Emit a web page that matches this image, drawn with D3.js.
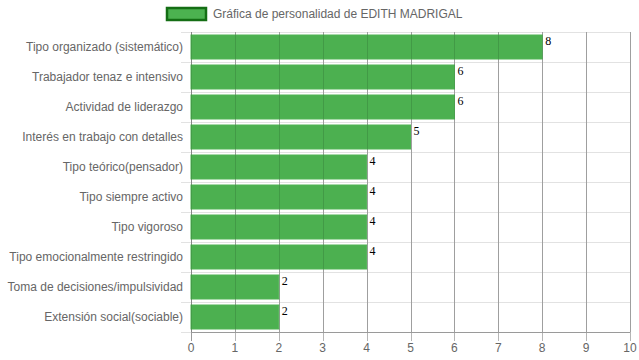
<!DOCTYPE html>
<html><head><meta charset="utf-8">
<script src="https://cdn.jsdelivr.net/npm/d3@7"></script>
<style>body{margin:0;background:#fff}svg{display:block}</style>
</head><body>
<svg id="c" width="639" height="360"></svg>
<script>
const categories = ["Tipo organizado (sistemático)","Trabajador tenaz e intensivo","Actividad de liderazgo","Interés en trabajo con detalles","Tipo teórico(pensador)","Tipo siempre activo","Tipo vigoroso","Tipo emocionalmente restringido","Toma de decisiones/impulsividad","Extensión social(sociable)"];
const values = [8,6,6,5,4,4,4,4,2,2];
const xTicks = [0,1,2,3,4,5,6,7,8,9,10];
const legendLabel = "Gráfica de personalidad de EDITH MADRIGAL";

(function(){
const svg = d3.select("#c");
const pL = 191, pR = 630, pT = 32, pB = 332;
const x = d3.scaleLinear().domain([0,10]).range([pL,pR]);
const y = d3.scaleBand().domain(categories).range([pT,pB]).paddingInner(0.2).paddingOuter(0.1);
const font = "Liberation Sans, Arial, sans-serif";

const bw = (pB-pT)/categories.length;
const hLines = d3.range(categories.length).map(i=>pT+i*bw);
svg.append("g").selectAll("line").data(hLines).join("line")
  .attr("x1",pL-10).attr("x2",pR).attr("y1",d=>Math.round(d)+0.5).attr("y2",d=>Math.round(d)+0.5)
  .attr("stroke","#e2e2e2").attr("stroke-width",1);
svg.append("line").attr("x1",pL-10).attr("x2",pL).attr("y1",pB+0.5).attr("y2",pB+0.5).attr("stroke","#e2e2e2");

svg.append("g").selectAll("line").data(xTicks).join("line")
  .attr("x1",d=>Math.round(x(d))+0.5).attr("x2",d=>Math.round(x(d))+0.5)
  .attr("y1",pT).attr("y2",pB+9)
  .attr("stroke",d=>d===0?"#9a9a9a":"#b5b5b5").attr("stroke-width",1);

svg.append("g").selectAll("rect").data(values).join("rect")
  .attr("x",x(0)).attr("y",(d,i)=>y(categories[i]))
  .attr("width",d=>x(d)-x(0)).attr("height",y.bandwidth())
  .attr("fill","rgb(76,176,80)")
  .attr("stroke","rgb(80,180,84)").attr("stroke-width",1);

svg.append("g").selectAll("line").data(xTicks).join("line")
  .attr("x1",d=>Math.round(x(d))+0.5).attr("x2",d=>Math.round(x(d))+0.5)
  .attr("y1",pT).attr("y2",pB)
  .attr("stroke","#000").attr("stroke-opacity",0.12);

svg.append("line").attr("x1",pL).attr("x2",pR).attr("y1",pB+0.5).attr("y2",pB+0.5).attr("stroke","#9a9a9a");

svg.append("g").selectAll("text").data(values).join("text")
  .attr("x",d=>x(d)+3).attr("y",(d,i)=>y(categories[i])+10)
  .attr("font-family","Liberation Serif, Times New Roman, serif").attr("font-size",12).attr("fill","#000")
  .text(d=>d);

svg.append("g").selectAll("text").data(categories).join("text")
  .attr("x",183).attr("y",d=>y(d)+y.bandwidth()/2).attr("dy","0.35em")
  .attr("text-anchor","end").attr("font-family",font).attr("font-size",12).attr("fill","#666")
  .text(d=>d);

svg.append("g").selectAll("text").data(xTicks).join("text")
  .attr("x",d=>x(d)).attr("y",352).attr("text-anchor","middle")
  .attr("font-family",font).attr("font-size",12).attr("fill","#666").text(d=>d);

svg.append("rect").attr("x",167).attr("y",8).attr("width",39).attr("height",12)
  .attr("fill","rgb(76,178,80)").attr("stroke","rgb(20,110,20)").attr("stroke-width",2.5);
svg.append("text").attr("x",213).attr("y",14).attr("dy","0.35em")
  .attr("font-family",font).attr("font-size",12).attr("fill","#666").text(legendLabel);
})();
</script>
</body></html>
